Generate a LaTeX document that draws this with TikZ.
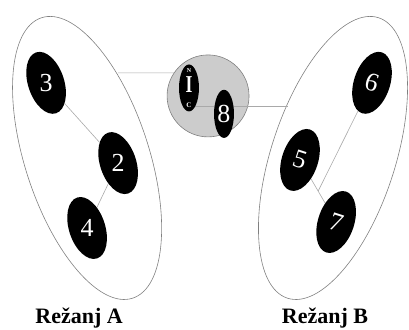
\documentclass[tikz,border=0pt]{standalone}
\usepackage[svgnames]{xcolor}
\usepackage{fontspec}
\setmainfont{Liberation Serif}
\newfontfamily\lobefont{Liberation Serif}
\usepackage{tikz}
\usetikzlibrary{shapes.geometric}
\pgfdeclarelayer{edgelayer}
\pgfdeclarelayer{nodelayer}
\pgfsetlayers{edgelayer,nodelayer,main}
\tikzstyle{none}=[inner sep=0pt]
\tikzstyle{lobe}=[ellipse,draw=Gray,line width=0.6,minimum width=4.36cm,minimum height=10.36cm,inner sep=0pt]
\tikzstyle{hub}=[circle,draw=Gray,fill=Black!20,line width=0.6,minimum size=2.88cm,inner sep=0pt]
\tikzstyle{cpu}=[ellipse,fill=Black,text=White,minimum width=1.27cm,minimum height=2.25cm,inner sep=0pt,font=\lobefont\fontsize{26}{26}\selectfont]
\tikzstyle{nic}=[ellipse,fill=Black,minimum width=0.7cm,minimum height=1.65cm,inner sep=0pt]
\tikzstyle{simple}=[-,draw=DarkGray,line width=0.6]
\tikzstyle{caption}=[inner sep=0pt,anchor=base,font=\lobefont\fontsize{22}{22}\selectfont\bfseries]

\begin{document}
\begin{tikzpicture}
  \useasboundingbox (0, 0) rectangle (14.37, 11.56);
  \begin{pgfonlayer}{nodelayer}
    \node [style=cpu, rotate=18] (0) at (1.62, 8.65) {\rotatebox{-18}{3}};
    \node [style=cpu, rotate=18] (1) at (4.15, 5.83) {\rotatebox{-18}{2}};
    \node [style=cpu, rotate=18] (2) at (3.06, 3.55) {\rotatebox{-18}{4}};
    \node [style=cpu, rotate=-18] (3) at (13.07, 8.65) {6};
    \node [style=cpu, rotate=-18] (4) at (10.54, 5.94) {5};
    \node [style=cpu, rotate=-18] (5) at (11.81, 3.76) {7};
    \node [style=nic, label={[text=White, align=center, inner sep=0pt, font=\lobefont\bfseries]center:{\fontsize{6}{6}\selectfont N}\\[3.5pt]{\fontsize{22}{15}\selectfont\scalebox{0.8}[1.1]{I}}\\[2.5pt]{\fontsize{7}{7}\selectfont C}}] (6) at (6.64, 8.47) {};
    \node [style=cpu, minimum width=0.7cm, minimum height=1.69cm] (7) at (7.87, 7.56) {8};
    \node [style=caption] (8) at (2.78, 0.21) {Režanj A};
    \node [style=caption] (9) at (11.42, 0.21) {Režanj B};
  \end{pgfonlayer}
  \begin{pgfonlayer}{edgelayer}
    \node [style=lobe, rotate=18] (10) at (3.06, 6.01) {};
    \node [style=lobe, rotate=-18] (11) at (11.70, 6.01) {};
    \node [style=hub] (12) at (7.31, 8.19) {};
    \node [style=none] (13) at (4.15, 9.00) {};
    \node [style=none] (14) at (10.12, 7.84) {};
    \node [style=none] (15) at (11.18, 4.85) {};
    \draw [style=simple] (0) to (1);
    \draw [style=simple] (1) to (2);
    \draw [style=simple] (4) to (5);
    \draw [style=simple] (3) to (15.center);
    \draw [style=simple] (13.center) to (12.146);
    \draw [style=simple] (6 |- 14) to (14.center);
  \end{pgfonlayer}
\end{tikzpicture}
\end{document}
